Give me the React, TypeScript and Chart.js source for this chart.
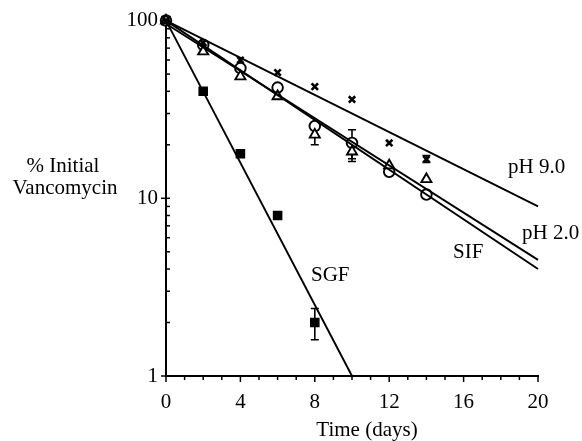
import React, { useEffect, useRef } from "react";
import { Chart, registerables } from "chart.js";

Chart.register(...registerables);

// ---- data ----
const days = [0, 2, 4, 6, 8, 10, 12, 14];
const sgfDays = [0, 2, 4, 6, 8];
const sgfValues = [100, 40, 17.8, 8.0, 2.0];
const ph90Values = [100, 75, 60, 51, 42.5, 36, 20.5, 16.6];
const ph20Values = [100, 73, 54, 42, 25.5, 20.5, 14.1, 10.5];
const sifValues = [100, 67, 48.5, 37.5, 22.8, 18.3, 15.3, 12.8];

// fitted (regression) lines: endpoints
const fitDays = [0, 20];
const ph90Fit = [100, 9.0];
const ph20Fit = [96, 4.5];
const sifFit = [100, 4.0];
const sgfFitDays = [0, 10];
const sgfFit = [100, 1];

// error bars (null = none)
const sgfErrLow = [null, null, null, null, 1.6];
const sgfErrHigh = [null, null, null, null, 2.4];
const ph20ErrLow = [null, null, null, null, null, 16.7, null, null];
const ph20ErrHigh = [null, null, null, null, null, 24.3, null, null];
const sifErrLow = [null, null, null, null, 20.0, 16.1, null, null];
const sifErrHigh = [null, null, null, null, 25.8, 20.5, null, null];
const ph90ErrLow = [null, null, null, null, null, null, null, 15.9];
const ph90ErrHigh = [null, null, null, null, null, null, null, 17.4];

const xTickLabels = [0, 4, 8, 12, 16, 20];
const yTickLabels = [1, 10, 100];

const FONT_FAMILY = "'Liberation Serif', 'Times New Roman', serif";
const FONT_SIZE = 21;

const toPts = (xs: number[], ys: number[]) => xs.map((x, i) => ({ x, y: ys[i] }));

const errorSets = [
  { xs: sgfDays, low: sgfErrLow, high: sgfErrHigh },
  { xs: days, low: ph20ErrLow, high: ph20ErrHigh },
  { xs: days, low: sifErrLow, high: sifErrHigh },
  { xs: days, low: ph90ErrLow, high: ph90ErrHigh },
];

const seriesLabels = [
  { text: "pH 9.0", x: 508, y: 173 },
  { text: "pH 2.0", x: 522, y: 239 },
  { text: "SIF", x: 453, y: 258 },
  { text: "SGF", x: 311, y: 281 },
];

const decorPlugin = {
  id: "decor",
  beforeDatasetsDraw(chart: any) {
    const { ctx, scales } = chart;
    const xs = scales.x;
    const ys = scales.y;
    ctx.save();
    ctx.strokeStyle = "#000";
    ctx.lineWidth = 1.6;
    errorSets.forEach((s) => {
      s.xs.forEach((d, i) => {
        const lo = s.low[i];
        const hi = s.high[i];
        if (lo == null || hi == null) return;
        const px = xs.getPixelForValue(d);
        const pLo = ys.getPixelForValue(lo);
        const pHi = ys.getPixelForValue(hi);
        ctx.beginPath();
        ctx.moveTo(px, pLo);
        ctx.lineTo(px, pHi);
        ctx.moveTo(px - 4, pLo);
        ctx.lineTo(px + 4, pLo);
        ctx.moveTo(px - 4, pHi);
        ctx.lineTo(px + 4, pHi);
        ctx.stroke();
      });
    });
    ctx.restore();
  },
  afterDraw(chart: any) {
    const { ctx, scales, chartArea } = chart;
    const xs = scales.x;
    const ys = scales.y;
    ctx.save();
    ctx.strokeStyle = "#000";
    ctx.lineWidth = 1.5;
    // x ticks (outside, downward)
    for (let d = 0; d <= 20; d++) {
      const px = xs.getPixelForValue(d);
      const len = d % 4 === 0 ? 6 : 4;
      ctx.beginPath();
      ctx.moveTo(px, chartArea.bottom);
      ctx.lineTo(px, chartArea.bottom + len);
      ctx.stroke();
    }
    // y ticks
    for (const dec of [1, 10]) {
      for (let m = 1; m <= 9; m++) {
        const v = dec * m;
        const py = ys.getPixelForValue(v);
        ctx.beginPath();
        if (m === 1) {
          ctx.moveTo(chartArea.left - 5, py);
          ctx.lineTo(chartArea.left + 4, py);
        } else {
          ctx.moveTo(chartArea.left, py);
          ctx.lineTo(chartArea.left + 4, py);
        }
        ctx.stroke();
      }
    }
    const pTop = ys.getPixelForValue(100);
    ctx.beginPath();
    ctx.moveTo(chartArea.left - 5, pTop);
    ctx.lineTo(chartArea.left + 4, pTop);
    ctx.stroke();

    ctx.fillStyle = "#000";
    ctx.font = `${FONT_SIZE}px ${FONT_FAMILY}`;
    ctx.textBaseline = "alphabetic";
    ctx.textAlign = "left";
    seriesLabels.forEach((l) => ctx.fillText(l.text, l.x, l.y));
    // axis titles
    ctx.textAlign = "center";
    ctx.fillText("% Initial", 63, 172);
    ctx.fillText("Vancomycin", 65, 194);
    ctx.fillText("Time (days)", 367, 436);
    ctx.restore();
  },
};

export default function App() {
  const ref = useRef<HTMLCanvasElement | null>(null);
  useEffect(() => {
    if (!ref.current) return;
    const lineDs = (xs: number[], ys: number[]) => ({
      data: toPts(xs, ys),
      showLine: true,
      borderColor: "#000",
      borderWidth: 1.9,
      pointRadius: 0,
      clip: false,
    });
    const markDs = (xs: number[], ys: number[], style: string, r: number, fill: string, bw: number) => ({
      data: toPts(xs, ys),
      showLine: false,
      pointStyle: style,
      pointRadius: r,
      borderColor: "#000",
      backgroundColor: fill,
      pointBorderWidth: bw,
      borderWidth: bw,
      clip: false,
    });
    const chart = new Chart(ref.current, {
      type: "scatter",
      data: {
        datasets: [
          lineDs(fitDays, ph90Fit),
          lineDs(fitDays, ph20Fit),
          lineDs(fitDays, sifFit),
          lineDs(sgfFitDays, sgfFit),
          markDs(days, ph90Values, "crossRot", 4.5, "#000", 2.6),
          markDs(days, sifValues, "triangle", 5.8, "#fff", 1.9),
          markDs(days, ph20Values, "circle", 5.3, "#fff", 1.9),
          markDs(sgfDays, sgfValues, "rect", 5.7, "#000", 1.5),
        ] as any,
      },
      options: {
        animation: false,
        responsive: false,
        events: [],
        layout: { padding: { top: 20, right: 44, left: 0, bottom: 0 } },
        plugins: { legend: { display: false }, tooltip: { enabled: false }, title: { display: false } },
        scales: {
          x: {
            type: "linear",
            min: 0,
            max: 20,
            afterFit: (s: any) => {
              s.height = 65;
            },
            afterBuildTicks: (s: any) => {
              s.ticks = xTickLabels.map((v) => ({ value: v }));
            },
            ticks: {
              color: "#000",
              padding: 14,
              font: { family: FONT_FAMILY, size: FONT_SIZE },
              maxRotation: 0,
            },
            grid: { display: false, drawTicks: false },
            border: { display: true, color: "#000", width: 2 },
          },
          y: {
            type: "logarithmic",
            min: 1,
            max: 100,
            afterFit: (s: any) => {
              s.width = 166;
            },
            afterBuildTicks: (s: any) => {
              s.ticks = yTickLabels.map((v) => ({ value: v }));
            },
            ticks: {
              color: "#000",
              padding: 8,
              autoSkip: false,
              font: { family: FONT_FAMILY, size: FONT_SIZE },
              callback: (v: any) => String(v),
            },
            grid: { display: false, drawTicks: false },
            border: { display: true, color: "#000", width: 2 },
          },
        },
      } as any,
      plugins: [decorPlugin],
    });
    return () => chart.destroy();
  }, []);
  return (
    <canvas
      ref={ref}
      width={582}
      height={441}
      style={{ position: "absolute", left: 0, top: 0, width: 582, height: 441 }}
    />
  );
}
